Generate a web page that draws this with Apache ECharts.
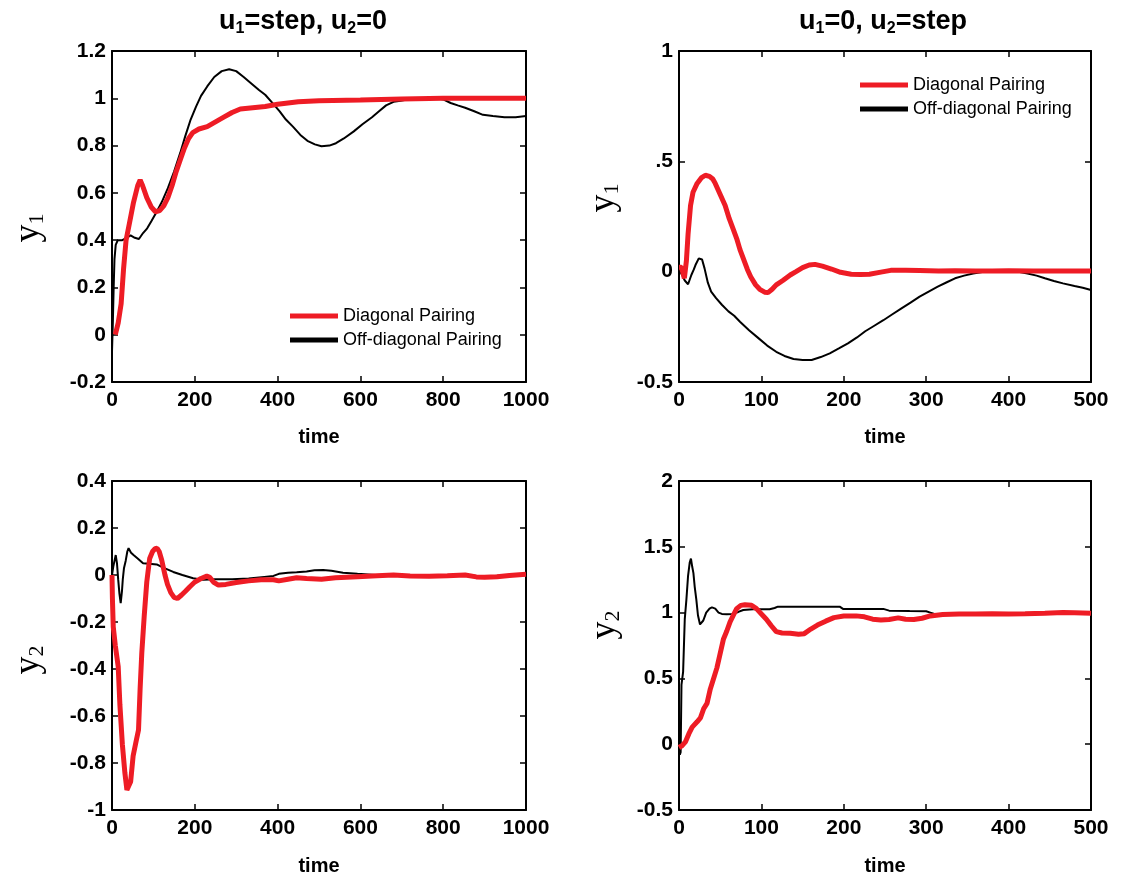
<!DOCTYPE html>
<html>
<head>
<meta charset="utf-8">
<script src="https://cdn.jsdelivr.net/npm/echarts@6/dist/echarts.min.js"></script>
<style>
  html, body { margin: 0; padding: 0; background: #fff; }
  #chart { width: 1124px; height: 878px; }
</style>
</head>
<body>
<div id="chart"></div>
<script>
// Series names shown in the legends
const seriesNames = ['Diagonal Pairing', 'Off-diagonal Pairing'];

// Tick labels
const xTicksLong = ['0', '200', '400', '600', '800', '1000'];
const xTicksShort = ['0', '100', '200', '300', '400', '500'];
const yTicksY1U1 = ['-0.2', '0', '0.2', '0.4', '0.6', '0.8', '1', '1.2'];
const yTicksY1U2 = ['-0.5', '0', '.5', '1'];
const yTicksY2U1 = ['-1', '-0.8', '-0.6', '-0.4', '-0.2', '0', '0.2', '0.4'];
const yTicksY2U2 = ['-0.5', '0', '0.5', '1', '1.5', '2'];

// y1 response, u1 = step, u2 = 0  ([time, value])
const y1U1Diag = [[8,0],[15,0.05],[22,0.13],[28,0.28],[34,0.4],[42,0.47],[52,0.56],[62,0.63],[68,0.655],[74,0.63],[84,0.58],[95,0.54],[105,0.52],[115,0.525],[125,0.545],[135,0.58],[145,0.63],[155,0.69],[165,0.74],[175,0.79],[185,0.83],[195,0.855],[210,0.87],[230,0.88],[250,0.9],[270,0.92],[290,0.94],[310,0.955],[340,0.96],[370,0.965],[400,0.975],[450,0.985],[500,0.99],[600,0.993],[700,0.997],[800,1.0],[900,1.0],[1000,1.0]];
const y1U1Off = [[0,-0.07],[2,0.05],[4,0.2],[6,0.32],[9,0.38],[14,0.4],[25,0.4],[35,0.41],[45,0.42],[55,0.41],[65,0.405],[75,0.43],[85,0.45],[95,0.48],[108,0.52],[120,0.56],[135,0.62],[150,0.69],[165,0.77],[177,0.84],[190,0.91],[203,0.965],[215,1.01],[230,1.05],[247,1.09],[265,1.115],[283,1.123],[300,1.115],[318,1.09],[335,1.065],[355,1.035],[370,1.015],[390,0.975],[405,0.945],[420,0.91],[437,0.88],[455,0.845],[472,0.82],[490,0.805],[506,0.797],[525,0.8],[541,0.81],[560,0.83],[584,0.86],[605,0.89],[628,0.92],[645,0.945],[662,0.97],[680,0.985],[697,0.99],[720,0.997],[749,1.0],[784,1.0],[800,0.995],[818,0.98],[835,0.97],[853,0.96],[875,0.945],[896,0.93],[920,0.925],[948,0.92],[975,0.92],[1000,0.925]];

// y1 response, u1 = 0, u2 = step
const y1U2Diag = [[0,0.02],[3,0.02],[6.5,-0.03],[9,0.05],[11,0.17],[14,0.3],[17,0.36],[22,0.4],[27,0.425],[32,0.437],[37,0.432],[41,0.42],[44,0.4],[50,0.35],[56,0.3],[61,0.24],[66,0.19],[70,0.15],[74,0.1],[78,0.06],[83,0.01],[87,-0.023],[93,-0.06],[98,-0.08],[104,-0.093],[108,-0.095],[113,-0.08],[118,-0.06],[126,-0.04],[135,-0.015],[142,0.0],[150,0.018],[158,0.03],[165,0.033],[174,0.025],[185,0.012],[196,-0.003],[209,-0.012],[220,-0.013],[231,-0.012],[245,-0.002],[257,0.006],[275,0.006],[292,0.005],[315,0.003],[335,0.004],[360,0.003],[380,0.003],[400,0.004],[430,0.003],[460,0.003],[500,0.003]];
const y1U2Off = [[0,0.01],[2,0.015],[4.5,-0.02],[7,-0.04],[11,-0.057],[15,-0.015],[18,0.01],[20,0.03],[24,0.06],[26,0.065],[28,0.055],[31,0.015],[35,-0.05],[39,-0.09],[45,-0.12],[52,-0.15],[60,-0.18],[67,-0.2],[74,-0.227],[85,-0.265],[96,-0.3],[107,-0.335],[118,-0.363],[128,-0.382],[139,-0.396],[150,-0.4],[161,-0.4],[172,-0.387],[183,-0.37],[194,-0.348],[205,-0.325],[216,-0.298],[226,-0.27],[237,-0.245],[248,-0.22],[259,-0.193],[270,-0.166],[281,-0.14],[292,-0.113],[303,-0.09],[314,-0.068],[325,-0.048],[335,-0.03],[346,-0.018],[357,-0.008],[368,-0.002],[379,0.003],[390,0.004],[400,0.003],[412,0.0],[423,-0.008],[434,-0.018],[444,-0.03],[455,-0.042],[466,-0.053],[480,-0.065],[490,-0.073],[500,-0.083]];

// y2 response, u1 = step, u2 = 0
const y2U1Diag = [[0,0],[1,-0.1],[3,-0.22],[8,-0.3],[15,-0.39],[19,-0.55],[25,-0.72],[31,-0.84],[36,-0.915],[40,-0.92],[45,-0.88],[51,-0.77],[58,-0.71],[64,-0.66],[68,-0.48],[72,-0.33],[78,-0.17],[84,-0.03],[91,0.07],[98,0.1],[104,0.112],[109,0.114],[114,0.1],[120,0.064],[128,0.0],[134,-0.04],[142,-0.075],[150,-0.095],[158,-0.1],[168,-0.085],[178,-0.068],[188,-0.05],[200,-0.03],[215,-0.015],[229,-0.005],[236,-0.01],[245,-0.03],[257,-0.043],[275,-0.04],[300,-0.032],[330,-0.025],[360,-0.02],[390,-0.02],[403,-0.025],[425,-0.018],[446,-0.012],[470,-0.015],[506,-0.018],[540,-0.012],[593,-0.007],[640,-0.003],[680,0],[720,-0.004],[766,-0.005],[810,-0.003],[853,0],[880,-0.008],[900,-0.01],[930,-0.007],[960,-0.002],[1000,0.003]];
const y2U1Off = [[0,0],[3,0.035],[6,0.06],[9,0.085],[12,0.05],[15,-0.02],[18,-0.08],[21,-0.12],[24,-0.07],[26,-0.02],[29,0.03],[33,0.06],[37,0.1],[40,0.114],[46,0.095],[52,0.085],[62,0.07],[75,0.05],[90,0.048],[108,0.045],[125,0.03],[148,0.013],[170,0.0],[196,-0.014],[220,-0.02],[250,-0.018],[290,-0.018],[330,-0.015],[368,-0.008],[390,-0.004],[403,0.005],[425,0.01],[446,0.012],[470,0.015],[489,0.02],[510,0.021],[530,0.018],[558,0.01],[593,0.005],[636,0.0],[700,0.0],[800,0.0],[853,0.0],[880,-0.004],[910,-0.005],[950,-0.002],[1000,0.002]];

// y2 response, u1 = 0, u2 = step
const y2U2Diag = [[0,-0.025],[4,-0.01],[8,0.02],[12,0.08],[16,0.13],[22,0.17],[26,0.2],[30,0.27],[34,0.31],[38,0.42],[42,0.5],[46,0.58],[50,0.69],[54,0.8],[58,0.86],[62,0.93],[66,0.98],[70,1.03],[75,1.055],[80,1.06],[88,1.055],[94,1.03],[100,0.99],[106,0.95],[112,0.9],[118,0.855],[125,0.845],[135,0.843],[145,0.835],[152,0.84],[160,0.875],[168,0.905],[178,0.935],[188,0.962],[200,0.974],[215,0.975],[225,0.968],[235,0.95],[245,0.944],[255,0.948],[266,0.96],[275,0.95],[285,0.948],[295,0.957],[305,0.975],[320,0.985],[340,0.99],[360,0.99],[380,0.992],[400,0.99],[420,0.992],[444,0.995],[466,1.0],[480,0.998],[500,0.995]];
const y2U2Off = [[0,-0.05],[1,-0.08],[2,-0.06],[3,0.45],[5,0.55],[7,0.95],[9,1.1],[11,1.28],[13,1.38],[14.5,1.41],[16,1.35],[17.5,1.3],[19,1.2],[21,1.1],[23,0.98],[25.5,0.91],[27,0.905],[29.5,0.94],[33,1.0],[37,1.03],[40,1.04],[44,1.03],[48,1.0],[52,0.99],[58,0.988],[65,0.99],[72,1.005],[78,1.02],[90,1.025],[110,1.025],[116,1.035],[120,1.045],[150,1.045],[180,1.045],[195,1.045],[199,1.028],[220,1.028],[248,1.028],[255,1.015],[280,1.012],[300,1.01],[305,1.0],[310,0.99],[350,0.99],[400,0.99],[450,0.99],[500,0.99]];

const RED = '#ee1c25';
const INK = '#000';
const SANS = '"Liberation Sans", Arial, Helvetica, sans-serif';
const SERIF = '"Liberation Serif", "Times New Roman", serif';

// Panel layout: grid box, axis ranges and which tick label lists to use
const panels = [
  { grid: { left: 112, top: 51, width: 414, height: 331 }, x: [0, 1000, 200], y: [-0.2, 1.2, 0.2], xl: xTicksLong,  yl: yTicksY1U1, diag: y1U1Diag, off: y1U1Off },
  { grid: { left: 679, top: 51, width: 412, height: 331 }, x: [0, 500, 100],  y: [-0.5, 1, 0.5],   xl: xTicksShort, yl: yTicksY1U2, diag: y1U2Diag, off: y1U2Off },
  { grid: { left: 112, top: 481, width: 414, height: 329 }, x: [0, 1000, 200], y: [-1, 0.4, 0.2],  xl: xTicksLong,  yl: yTicksY2U1, diag: y2U1Diag, off: y2U1Off },
  { grid: { left: 679, top: 481, width: 412, height: 329 }, x: [0, 500, 100],  y: [-0.5, 2, 0.5],  xl: xTicksShort, yl: yTicksY2U2, diag: y2U2Diag, off: y2U2Off }
];

const axisLine = { show: true, onZero: false, lineStyle: { color: INK, width: 2 } };
const tickIn = { show: true, inside: true, length: 6, lineStyle: { color: INK, width: 1.5 } };
const labelFont = { color: INK, fontFamily: SANS, fontWeight: 'bold', fontSize: 21 };

const grids = [], xAxes = [], yAxes = [], series = [];
panels.forEach((p, i) => {
  grids.push(Object.assign({ containLabel: false }, p.grid));
  // bottom axis with labels
  xAxes.push({
    type: 'value', gridIndex: i, position: 'bottom', min: p.x[0], max: p.x[1], interval: p.x[2],
    axisLine, axisTick: tickIn, splitLine: { show: false },
    axisLabel: Object.assign({ margin: 8, formatter: (v, k) => p.xl[k] }, labelFont)
  });
  // mirrored top axis (frame + ticks only)
  xAxes.push({
    type: 'value', gridIndex: i, position: 'top', min: p.x[0], max: p.x[1], interval: p.x[2],
    axisLine, axisTick: tickIn, splitLine: { show: false }, axisLabel: { show: false }
  });
  yAxes.push({
    type: 'value', gridIndex: i, position: 'left', min: p.y[0], max: p.y[1], interval: p.y[2],
    axisLine, axisTick: tickIn, splitLine: { show: false },
    axisLabel: Object.assign({ margin: 6, formatter: (v, k) => p.yl[k] }, labelFont)
  });
  yAxes.push({
    type: 'value', gridIndex: i, position: 'right', min: p.y[0], max: p.y[1], interval: p.y[2],
    axisLine, axisTick: tickIn, splitLine: { show: false }, axisLabel: { show: false }
  });
  series.push({
    name: seriesNames[1], type: 'line', xAxisIndex: 2 * i, yAxisIndex: 2 * i,
    data: p.off, showSymbol: false, symbol: 'none', color: INK,
    lineStyle: { color: INK, width: 2 }, z: 2
  });
  series.push({
    name: seriesNames[0], type: 'line', xAxisIndex: 2 * i, yAxisIndex: 2 * i,
    data: p.diag, showSymbol: false, symbol: 'none', color: RED,
    lineStyle: { color: RED, width: 5 }, z: 3
  });
});

const legendBase = {
  orient: 'vertical', icon: 'rect', itemWidth: 48, itemHeight: 5, itemGap: 6, padding: 0,
  selectedMode: false, data: seriesNames,
  textStyle: { color: INK, fontFamily: SANS, fontSize: 18 }
};

function richTitle(x, y, parts) {
  return {
    type: 'text', x, y, z: 10,
    style: {
      text: parts, align: 'center', textAlign: 'center', verticalAlign: 'middle', textVerticalAlign: 'middle',
      fill: INK, fontFamily: SANS, fontWeight: 'bold', fontSize: 27,
      rich: {
        m: { fill: INK, fontFamily: SANS, fontWeight: 'bold', fontSize: 27, lineHeight: 30, verticalAlign: 'middle' },
        s: { fill: INK, fontFamily: SANS, fontWeight: 'bold', fontSize: 16, lineHeight: 16, verticalAlign: 'bottom' }
      }
    }
  };
}

function yName(x, y, idx) {
  return {
    type: 'text', x, y, rotation: Math.PI / 2, z: 10,
    style: {
      text: '{m|y}{s|' + idx + '}', align: 'center', textAlign: 'center', verticalAlign: 'middle', textVerticalAlign: 'middle',
      fill: INK, fontFamily: SERIF, fontSize: 36,
      rich: {
        m: { fill: INK, fontFamily: SERIF, fontSize: 36, lineHeight: 38, verticalAlign: 'middle' },
        s: { fill: INK, fontFamily: SERIF, fontSize: 22, lineHeight: 22, verticalAlign: 'bottom' }
      }
    }
  };
}

function timeLabel(x, y) {
  return {
    type: 'text', x, y, z: 10,
    style: {
      text: 'time', align: 'center', textAlign: 'center', verticalAlign: 'middle', textVerticalAlign: 'middle',
      fill: INK, fontFamily: SANS, fontWeight: 'bold', fontSize: 20
    }
  };
}

const chart = echarts.init(document.getElementById('chart'), null, { renderer: 'canvas' });
chart.setOption({
  backgroundColor: '#fff',
  animation: false,
  grid: grids,
  xAxis: xAxes,
  yAxis: yAxes,
  series,
  legend: [
    Object.assign({ left: 290, top: 307 }, legendBase),
    Object.assign({ left: 860, top: 76 }, legendBase)
  ],
  graphic: [
    richTitle(303, 22, '{m|u}{s|1}{m|=step, u}{s|2}{m|=0}'),
    richTitle(883, 22, '{m|u}{s|1}{m|=0, u}{s|2}{m|=step}'),
    yName(29, 228, 1),
    yName(604, 198, 1),
    yName(29, 660, 2),
    yName(605, 625, 2),
    timeLabel(319, 437),
    timeLabel(885, 437),
    timeLabel(319, 866),
    timeLabel(885, 866)
  ]
});
</script>
</body>
</html>
